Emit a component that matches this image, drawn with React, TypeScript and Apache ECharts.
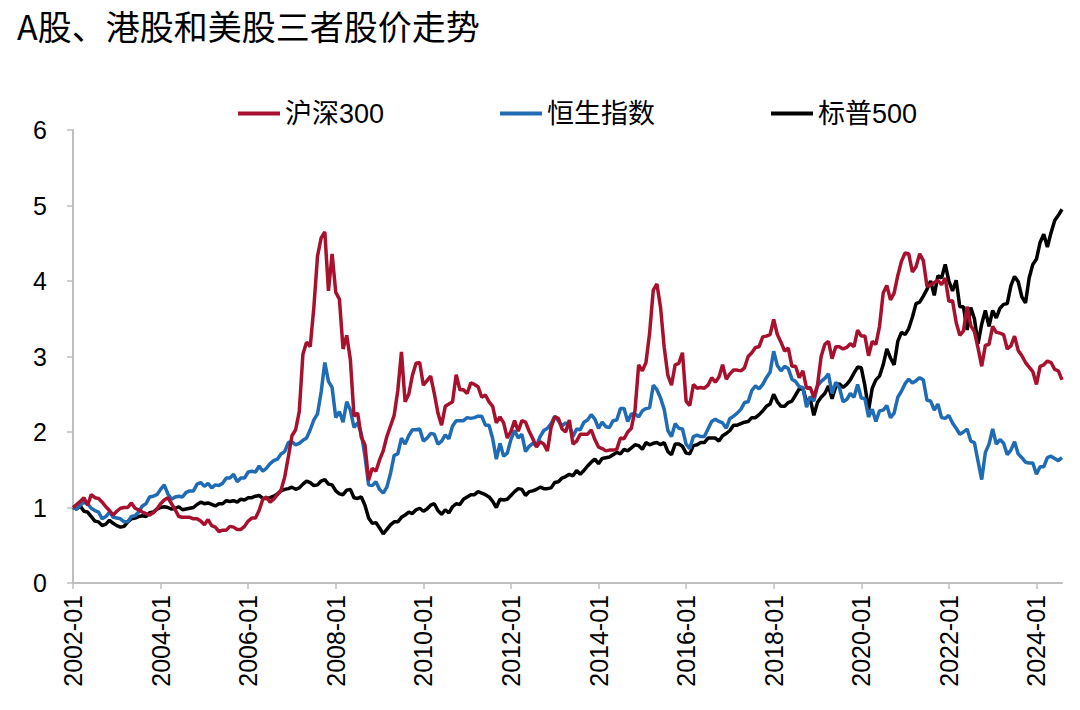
import React, { useEffect, useRef } from "react";
import * as echarts from "echarts";

const TITLE = "A股、港股和美股三者股价走势";
const SERIES_NAMES = ["沪深300", "恒生指数", "标普500"];
const COLORS = ["#A8112E", "#1F6CB4", "#000000"];
const Y_TICKS = [0, 1, 2, 3, 4, 5, 6];

// monthly categories 2002-01 .. 2024-08
const months: string[] = [];
for (let y = 2002; y <= 2024; y++) {
  for (let m = 1; m <= 12; m++) {
    if (y === 2024 && m > 8) break;
    months.push(`${y}-${m < 10 ? "0" + m : m}`);
  }
}

const csi300 = [
  1.00, 1.04, 1.08, 1.13, 1.03, 1.17, 1.13, 1.12, 1.07, 1.01, 0.96, 0.90,
  0.95, 0.99, 1.00, 1.00, 1.06, 0.99, 0.97, 0.94, 0.92, 0.90, 0.93, 0.98,
  1.05, 1.10, 1.13, 1.05, 0.97, 0.88, 0.87, 0.87, 0.87, 0.85, 0.85, 0.82,
  0.77, 0.84, 0.76, 0.74, 0.68, 0.70, 0.70, 0.75, 0.74, 0.71, 0.71, 0.75,
  0.82, 0.86, 0.86, 0.96, 1.11, 1.14, 1.07, 1.11, 1.17, 1.23, 1.40, 1.67,
  1.95, 2.03, 2.27, 3.03, 3.19, 3.13, 3.65, 4.33, 4.57, 4.65, 3.87, 4.36,
  3.85, 3.76, 3.10, 3.28, 2.96, 2.21, 2.25, 1.93, 1.83, 1.36, 1.52, 1.48,
  1.63, 1.75, 1.94, 2.08, 2.22, 2.55, 3.06, 2.40, 2.50, 2.75, 2.91, 2.92,
  2.62, 2.68, 2.74, 2.51, 2.25, 2.09, 2.34, 2.37, 2.40, 2.76, 2.56, 2.56,
  2.51, 2.65, 2.63, 2.60, 2.46, 2.49, 2.40, 2.34, 2.12, 2.20, 2.12, 1.92,
  2.01, 2.15, 2.01, 2.15, 2.13, 2.01, 1.91, 1.80, 1.87, 1.84, 1.75, 2.06,
  2.20, 2.18, 2.04, 2.00, 2.16, 1.84, 1.88, 1.97, 1.97, 1.97, 2.03, 1.90,
  1.80, 1.78, 1.75, 1.76, 1.76, 1.77, 1.92, 1.91, 2.00, 2.05, 2.29, 2.89,
  2.81, 2.92, 3.31, 3.88, 3.96, 3.65, 3.12, 2.75, 2.62, 2.89, 2.91, 3.05,
  2.41, 2.35, 2.63, 2.58, 2.59, 2.58, 2.62, 2.72, 2.66, 2.73, 2.89, 2.70,
  2.77, 2.82, 2.82, 2.81, 2.85, 3.00, 3.05, 3.12, 3.13, 3.26, 3.27, 3.29,
  3.49, 3.29, 3.19, 3.07, 3.11, 2.87, 2.87, 2.72, 2.81, 2.58, 2.59, 2.46,
  2.62, 3.00, 3.16, 3.20, 2.97, 3.13, 3.13, 3.10, 3.12, 3.17, 3.13, 3.35,
  3.27, 3.27, 3.01, 3.20, 3.16, 3.40, 3.84, 3.94, 3.75, 3.84, 4.07, 4.26,
  4.37, 4.36, 4.12, 4.19, 4.36, 4.27, 3.93, 3.95, 3.98, 4.01, 3.95, 4.04,
  3.73, 3.74, 3.45, 3.28, 3.34, 3.66, 3.41, 3.33, 3.11, 2.87, 3.15, 3.16,
  3.40, 3.32, 3.31, 3.29, 3.10, 3.14, 3.27, 3.08, 3.01, 2.92, 2.86, 2.80,
  2.63, 2.87, 2.89, 2.94, 2.92, 2.83, 2.81, 2.69,
];

const hangSeng = [
  1.00, 0.98, 1.03, 1.07, 1.05, 0.99, 0.96, 0.94, 0.85, 0.88, 0.94, 0.87,
  0.86, 0.85, 0.81, 0.81, 0.88, 0.89, 0.94, 1.02, 1.05, 1.14, 1.15, 1.17,
  1.24, 1.30, 1.18, 1.11, 1.14, 1.15, 1.14, 1.20, 1.22, 1.22, 1.31, 1.33,
  1.28, 1.32, 1.26, 1.30, 1.29, 1.32, 1.39, 1.39, 1.44, 1.34, 1.39, 1.39,
  1.47, 1.48, 1.47, 1.55, 1.48, 1.52, 1.58, 1.62, 1.64, 1.71, 1.74, 1.86,
  1.87, 1.83, 1.85, 1.89, 1.92, 2.03, 2.16, 2.24, 2.53, 2.92, 2.67, 2.59,
  2.19, 2.27, 2.13, 2.40, 2.29, 2.06, 2.12, 1.98, 1.68, 1.30, 1.29, 1.34,
  1.24, 1.19, 1.27, 1.45, 1.69, 1.71, 1.92, 1.84, 1.95, 2.03, 2.03, 2.04,
  1.88, 1.92, 1.98, 1.97, 1.84, 1.88, 1.96, 1.91, 2.08, 2.15, 2.15, 2.15,
  2.19, 2.18, 2.19, 2.21, 2.21, 2.09, 2.09, 1.91, 1.64, 1.85, 1.68, 1.72,
  1.90, 2.02, 1.92, 1.97, 1.74, 1.81, 1.85, 1.82, 1.94, 2.02, 2.05, 2.11,
  2.21, 2.15, 2.08, 2.12, 2.09, 1.94, 2.04, 2.03, 2.13, 2.16, 2.23, 2.17,
  2.05, 2.13, 2.07, 2.06, 2.15, 2.16, 2.31, 2.31, 2.14, 2.24, 2.24, 2.20,
  2.28, 2.31, 2.32, 2.62, 2.56, 2.45, 2.30, 2.02, 1.94, 2.11, 2.05, 2.04,
  1.84, 1.78, 1.94, 1.96, 1.94, 1.94, 2.04, 2.14, 2.17, 2.14, 2.12, 2.05,
  2.18, 2.21, 2.25, 2.30, 2.39, 2.40, 2.55, 2.61, 2.57, 2.63, 2.72, 2.79,
  3.07, 2.88, 2.81, 2.87, 2.84, 2.70, 2.67, 2.60, 2.59, 2.33, 2.47, 2.41,
  2.61, 2.67, 2.71, 2.77, 2.51, 2.66, 2.59, 2.40, 2.43, 2.51, 2.46, 2.63,
  2.45, 2.44, 2.20, 2.30, 2.14, 2.28, 2.29, 2.35, 2.19, 2.25, 2.46, 2.54,
  2.64, 2.70, 2.65, 2.68, 2.72, 2.69, 2.42, 2.41, 2.29, 2.37, 2.19, 2.18,
  2.22, 2.12, 2.05, 1.97, 2.00, 2.04, 1.88, 1.86, 1.61, 1.37, 1.73, 1.84,
  2.04, 1.84, 1.90, 1.85, 1.70, 1.76, 1.87, 1.71, 1.66, 1.60, 1.59, 1.59,
  1.44, 1.54, 1.54, 1.66, 1.68, 1.65, 1.62, 1.66,
];

const sp500 = [
  1.00, 0.98, 1.02, 0.95, 0.94, 0.88, 0.82, 0.81, 0.76, 0.78, 0.83, 0.79,
  0.76, 0.74, 0.75, 0.81, 0.85, 0.86, 0.88, 0.89, 0.88, 0.93, 0.94, 0.98,
  1.00, 1.01, 1.00, 0.98, 0.99, 1.01, 0.97, 0.98, 0.99, 1.00, 1.04, 1.07,
  1.05, 1.06, 1.04, 1.02, 1.05, 1.05, 1.09, 1.08, 1.09, 1.07, 1.11, 1.10,
  1.13, 1.13, 1.15, 1.16, 1.12, 1.12, 1.13, 1.15, 1.18, 1.22, 1.24, 1.25,
  1.27, 1.24, 1.26, 1.31, 1.35, 1.33, 1.29, 1.30, 1.35, 1.37, 1.31, 1.30,
  1.22, 1.18, 1.17, 1.23, 1.24, 1.13, 1.12, 1.14, 1.03, 0.86, 0.79, 0.80,
  0.73, 0.65, 0.71, 0.77, 0.81, 0.81, 0.87, 0.90, 0.94, 0.92, 0.97, 0.99,
  0.95, 0.98, 1.03, 1.05, 0.96, 0.91, 0.97, 0.93, 1.01, 1.05, 1.04, 1.11,
  1.14, 1.17, 1.17, 1.21, 1.19, 1.17, 1.14, 1.08, 1.00, 1.11, 1.10, 1.11,
  1.16, 1.21, 1.25, 1.24, 1.16, 1.21, 1.22, 1.24, 1.27, 1.25, 1.25, 1.26,
  1.33, 1.34, 1.39, 1.41, 1.44, 1.42, 1.49, 1.44, 1.49, 1.55, 1.60, 1.64,
  1.58, 1.65, 1.66, 1.67, 1.70, 1.73, 1.71, 1.77, 1.75, 1.79, 1.83, 1.82,
  1.77, 1.86, 1.83, 1.85, 1.86, 1.83, 1.86, 1.74, 1.70, 1.84, 1.84, 1.81,
  1.72, 1.71, 1.82, 1.83, 1.86, 1.86, 1.92, 1.92, 1.92, 1.88, 1.95, 1.98,
  2.02, 2.09, 2.09, 2.11, 2.13, 2.14, 2.19, 2.19, 2.23, 2.28, 2.34, 2.37,
  2.50, 2.40, 2.34, 2.34, 2.39, 2.41, 2.49, 2.57, 2.58, 2.40, 2.44, 2.22,
  2.39, 2.46, 2.51, 2.61, 2.44, 2.60, 2.64, 2.59, 2.63, 2.69, 2.78, 2.86,
  2.85, 2.61, 2.29, 2.58, 2.69, 2.74, 2.89, 3.10, 2.98, 2.89, 3.20, 3.32,
  3.29, 3.37, 3.52, 3.70, 3.72, 3.80, 3.89, 4.00, 3.81, 4.07, 4.04, 4.22,
  4.00, 3.87, 4.01, 3.66, 3.66, 3.35, 3.65, 3.50, 3.17, 3.43, 3.61, 3.40,
  3.61, 3.51, 3.64, 3.69, 3.70, 3.94, 4.06, 3.99, 3.79, 3.71, 4.04, 4.22,
  4.29, 4.51, 4.62, 4.45, 4.64, 4.80, 4.87, 4.95,
];

const FONT = "'Liberation Sans', Arial, 'Noto Sans CJK SC', sans-serif";

export default function App() {
  const ref = useRef<HTMLDivElement>(null);
  useEffect(() => {
    if (!ref.current) return;
    const chart = echarts.init(ref.current, undefined, { renderer: "svg" });
    const dataSets = [csi300, hangSeng, sp500];
    chart.setOption({
      animation: false,
      backgroundColor: "#ffffff",
      title: {
        text: TITLE,
        left: 12,
        top: 3,
        textStyle: {
          fontSize: 34,
          fontWeight: "normal",
          color: "#000",
          fontFamily: "'Noto Sans CJK SC', sans-serif",
        },
      },
      legend: {
        left: 233,
        top: 95,
        itemGap: 116,
        itemWidth: 42,
        itemHeight: 4,
        icon: "rect",
        textStyle: { fontSize: 27, color: "#000", fontFamily: FONT },
        data: SERIES_NAMES,
      },
      grid: { left: 73, right: 18, top: 130, bottom: 127, containLabel: false },
      xAxis: {
        type: "category",
        data: months,
        boundaryGap: false,
        axisLine: { lineStyle: { color: "#bfbfbf", width: 2 } },
        axisTick: {
          show: true,
          interval: 23,
          length: 6,
          lineStyle: { color: "#bfbfbf", width: 1.5 },
        },
        axisLabel: {
          interval: 23,
          rotate: 90,
          fontSize: 25,
          color: "#000",
          margin: 12,
          fontFamily: FONT,
        },
        splitLine: { show: false },
      },
      yAxis: {
        type: "value",
        min: Y_TICKS[0],
        max: Y_TICKS[Y_TICKS.length - 1],
        interval: 1,
        axisLine: { show: true, lineStyle: { color: "#bfbfbf", width: 2 } },
        axisTick: { show: true, length: 6, lineStyle: { color: "#bfbfbf", width: 1.5 } },
        axisLabel: { fontSize: 25, color: "#000", margin: 26, fontFamily: FONT },
        splitLine: { show: false },
      },
      series: SERIES_NAMES.map((name, i) => ({
        name,
        type: "line",
        data: dataSets[i],
        symbol: "none",
        lineStyle: { color: COLORS[i], width: 3.5 },
        itemStyle: { color: COLORS[i] },
        z: 3 - i,
      })),
    });
    return () => chart.dispose();
  }, []);
  return (
    <div
      ref={ref}
      style={{ position: "fixed", left: 0, top: 0, width: 1080, height: 710, background: "#fff" }}
    />
  );
}
